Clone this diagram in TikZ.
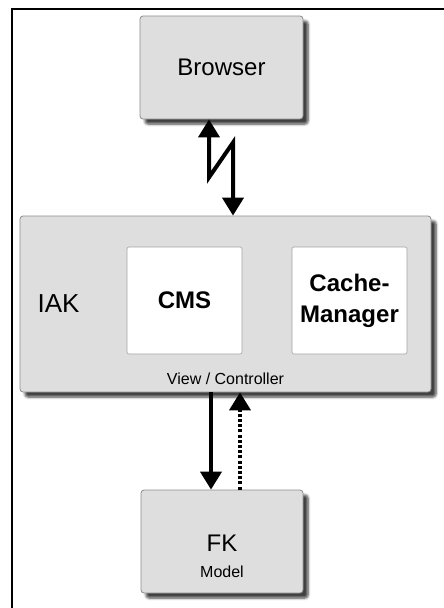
\documentclass[tikz,border=0pt]{standalone}
\usepackage{fontspec}
\setmainfont{Liberation Sans}
\usetikzlibrary{arrows.meta,shadows.blur,calc}

\definecolor{boxgray}{HTML}{DEDEDE}
\definecolor{edgegray}{HTML}{8C8C8C}

\tikzset{
  graybox/.style={draw=edgegray, line width=0.8pt, fill=boxgray, rounded corners=3pt,
    blur shadow={shadow xshift=5pt, shadow yshift=-5pt, shadow blur steps=6,
      shadow blur radius=2.5pt, shadow opacity=75}},
  whitebox/.style={draw=edgegray!80, line width=0.6pt, fill=white, rounded corners=2pt},
  bigtext/.style={font=\fontsize{24}{31}\selectfont, align=center},
  boldtext/.style={font=\fontsize{24}{31}\selectfont\bfseries, align=center},
  smalltext/.style={font=\fontsize{16}{19}\selectfont},
  link/.style={line width=4pt, black},
  tipend/.style={-{Triangle[width=21pt,length=18pt]}},
  tipboth/.style={{Triangle[width=21pt,length=18pt]}-{Triangle[width=21pt,length=18pt]}},
  dotline/.style={line width=4pt, black, dash pattern=on 3pt off 2.2pt}
}

\begin{document}
\begin{tikzpicture}[x=1pt,y=-1pt]
  \useasboundingbox (0,0) rectangle (444,608);

  % page frame (top and left edges)
  \draw[line width=2.5pt] (12,608) -- (12,9) -- (444,9);

  % boxes
  \node[graybox, minimum width=163pt, minimum height=103pt] (browser) at (221.5,67.5) {};
  \node[bigtext] (browsertxt) at (browser.center) {Browser};

  \node[graybox, minimum width=411pt, minimum height=176pt] (iak) at (225.5,304) {};
  \node[bigtext, anchor=west] (iaktxt) at (34,304) {\fontsize{26}{31}\selectfont IAK};
  \node[whitebox, minimum width=115pt, minimum height=107pt] (cms) at (184.5,300.5) {};
  \node[boldtext] (cmstxt) at (cms.center) {CMS};
  \node[whitebox, minimum width=115pt, minimum height=107pt] (cache) at (349.5,300.5) {};
  \node[boldtext] (cachetxt) at (cache.center) {Cache-\\Manager};
  \node[smalltext] (vctxt) at (225.5,379) {View / Controller};

  \node[graybox, minimum width=162pt, minimum height=103pt] (fk) at (222,541.5) {};
  \node[bigtext] (fktxt) at (222,543) {FK};
  \node[smalltext] (modeltxt) at (222,572) {Model};

  % browser <-> IAK, drawn as a zigzag link
  \draw[link, tipboth, line join=miter]
    ([xshift=-12.5pt]browser.south) -- ++(0,58)
    -- ($([xshift=7.5pt]iak.north)+(0,-73)$) -- ([xshift=7.5pt]iak.north);

  % IAK -> FK (request) and FK -> IAK (dotted response)
  \draw[link, tipend] ([xshift=-14.5pt]iak.south) -- ([xshift=-11pt]fk.north);
  \draw[dotline, tipend] ([xshift=18pt]fk.north) -- ([xshift=14.5pt]iak.south);
\end{tikzpicture}
\end{document}
